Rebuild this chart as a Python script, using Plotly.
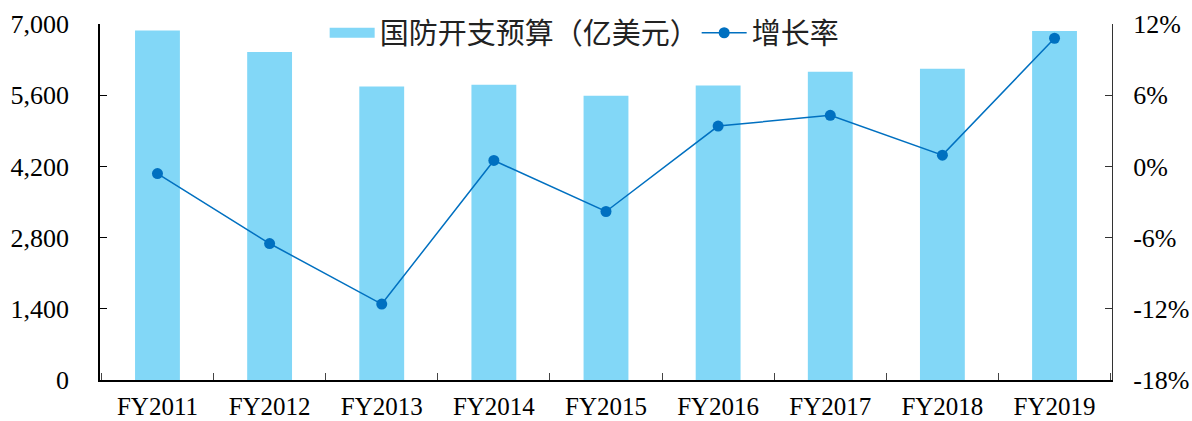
import plotly.graph_objects as go

categories = ["FY2011", "FY2012", "FY2013", "FY2014", "FY2015", "FY2016", "FY2017", "FY2018", "FY2019"]
budget = [6870, 6450, 5770, 5805, 5590, 5790, 6060, 6120, 6860]
growth = [-0.6, -6.5, -11.6, 0.5, -3.8, 3.4, 4.3, 0.95, 10.8]

left_ticks = [0, 1400, 2800, 4200, 5600, 7000]
left_ticktext = ["0", "1,400", "2,800", "4,200", "5,600", "7,000"]
right_ticks = [-18, -12, -6, 0, 6, 12]
right_ticktext = ["-18%", "-12%", "-6%", "0%", "6%", "12%"]

BAR_NAME = "国防开支预算（亿美元）"
LINE_NAME = "增长率"
BAR_COLOR = "#82D7F7"
LINE_COLOR = "#0070C0"

FONT = "Liberation Serif, Times New Roman, Noto Sans CJK SC, serif"

fig = go.Figure()
fig.add_trace(go.Bar(
    x=categories, y=budget, name=BAR_NAME,
    marker=dict(color=BAR_COLOR, line=dict(width=0)),
    yaxis="y", showlegend=False,
))
# legend proxy for the bar series (wide rectangular swatch)
fig.add_trace(go.Scatter(
    x=[None], y=[None], name=BAR_NAME, mode="lines",
    line=dict(color=BAR_COLOR, width=14), yaxis="y",
))
fig.add_trace(go.Scatter(
    x=categories, y=growth, name=LINE_NAME, mode="lines+markers",
    line=dict(color=LINE_COLOR, width=1.5),
    marker=dict(color=LINE_COLOR, size=11),
    yaxis="y2",
))

fig.update_layout(
    width=1192, height=421,
    margin=dict(l=100, r=80, t=24, b=41, autoexpand=False),
    paper_bgcolor="white", plot_bgcolor="white",
    font=dict(family=FONT, size=26, color="black"),
    bargap=0.6,
    showlegend=True,
    legend=dict(
        orientation="h", x=0.222, xanchor="left", y=0.975, yanchor="middle",
        font=dict(family="Noto Sans CJK SC, serif", size=29, color="#222"),
        bgcolor="rgba(0,0,0,0)", itemwidth=45, entrywidth=312, entrywidthmode="pixels",
        traceorder="normal",
    ),
    xaxis=dict(
        showline=True, linecolor="black", linewidth=1.5,
        ticks="inside", tickson="boundaries", ticklen=7, tickcolor="#444",
        showgrid=False, ticklabelstandoff=3, automargin=False,
        tickfont=dict(family=FONT, size=25),
    ),
    yaxis=dict(
        range=[0, 7000], tickvals=left_ticks, ticktext=left_ticktext,
        showline=True, linecolor="black", linewidth=1.5,
        ticks="inside", ticklen=7, tickcolor="black", showgrid=False, zeroline=False,
        ticklabelstandoff=24, automargin=False, tickfont=dict(family=FONT, size=26),
    ),
    yaxis2=dict(
        range=[-18, 12], tickvals=right_ticks, ticktext=right_ticktext,
        overlaying="y", side="right",
        showline=True, linecolor="#333", linewidth=1,
        ticks="inside", ticklen=7, tickcolor="#333", showgrid=False, zeroline=False,
        ticklabelstandoff=15, automargin=False, tickfont=dict(family=FONT, size=26),
    ),
)

fig.write_html(
    "out.html",
    config={"displayModeBar": False},
    post_script="document.documentElement.style.margin='0';document.body.style.margin='0';document.body.style.padding='0';",
)
